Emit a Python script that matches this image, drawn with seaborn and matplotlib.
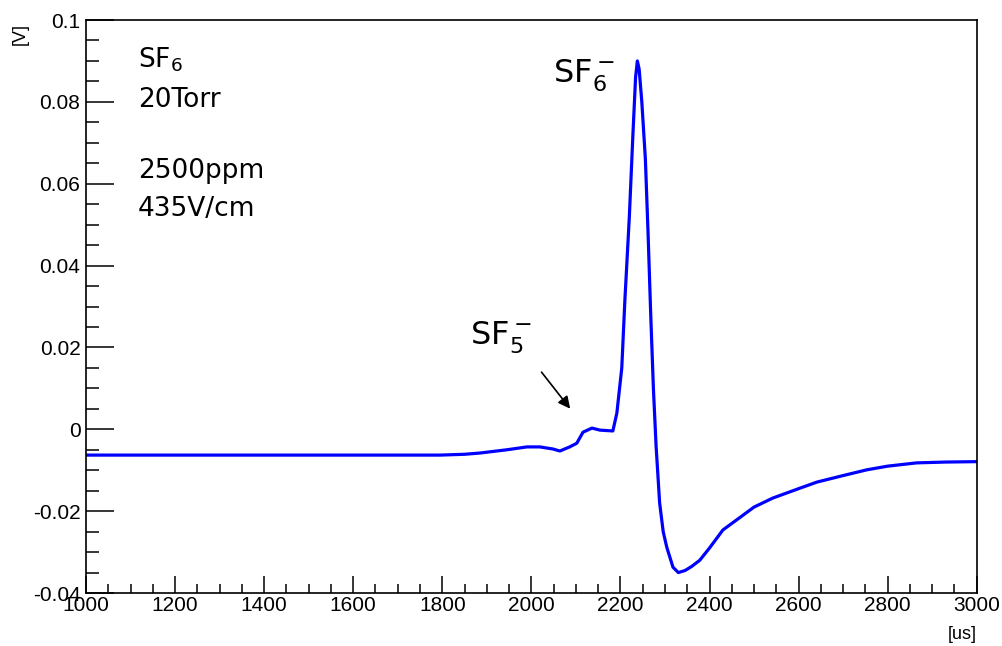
import seaborn as sns
import matplotlib.pyplot as plt
import pandas as pd
from matplotlib.ticker import MultipleLocator, FuncFormatter

sns.set_style("white")
plt.rcParams["font.family"] = ["Liberation Sans", "DejaVu Sans"]
plt.rcParams["text.color"] = "black"
plt.rcParams["xtick.color"] = "black"
plt.rcParams["ytick.color"] = "black"

# waveform
time_us = [1000, 1200, 1400, 1600, 1795, 1850, 1884, 1945, 1990, 2019, 2048, 2064,
           2086, 2102, 2116, 2136, 2154, 2183, 2192, 2203, 2210, 2220, 2228, 2234,
           2238, 2242, 2248, 2256, 2262, 2268, 2274, 2280, 2288, 2296, 2304, 2318,
           2330, 2345, 2360, 2378, 2400, 2430, 2450, 2475, 2500, 2542, 2600, 2641,
           2700, 2753, 2800, 2865, 2930, 3000]
signal_v = [-0.0063, -0.0063, -0.0063, -0.0063, -0.0063, -0.0061, -0.0058, -0.0050, -0.0043, -0.0043, -0.0048, -0.0053,
            -0.0043, -0.0034, -0.0007, 0.0003, -0.0002, -0.0004, 0.0040, 0.0150, 0.0316, 0.0520, 0.0720, 0.0860,
            0.0900, 0.0880, 0.0800, 0.0660, 0.0480, 0.0280, 0.0100, -0.0040, -0.0180, -0.0250, -0.0288, -0.0337,
            -0.0350, -0.0345, -0.0335, -0.0320, -0.0290, -0.0246, -0.0230, -0.0210, -0.0190, -0.0168, -0.0145, -0.0129,
            -0.0113, -0.0099, -0.0090, -0.0082, -0.0080, -0.0079]

df = pd.DataFrame({"t": time_us, "v": signal_v})

fig = plt.figure(figsize=(10.02, 6.46), dpi=100)
ax = fig.add_axes([0.0858, 0.082, 0.889, 0.887])
sns.lineplot(data=df, x="t", y="v", color="#0000ff", linewidth=2.3, ax=ax)

ax.set_xlim(1000, 3000)
ax.set_ylim(-0.04, 0.1)
ax.xaxis.set_major_locator(MultipleLocator(200))
ax.xaxis.set_minor_locator(MultipleLocator(50))
ax.yaxis.set_major_locator(MultipleLocator(0.02))
ax.yaxis.set_minor_locator(MultipleLocator(0.005))
ax.yaxis.set_major_formatter(FuncFormatter(lambda v, p: "0" if abs(v) < 1e-9 else f"{v:g}"))

ax.tick_params(axis="x", which="major", direction="in", length=12, width=1.1, pad=2, labelsize=15, bottom=True)
ax.tick_params(axis="x", which="minor", direction="in", length=6.5, width=1.1, bottom=True)
ax.tick_params(axis="y", which="major", direction="in", length=20, width=1.1, pad=4, labelsize=15, left=True)
ax.tick_params(axis="y", which="minor", direction="in", length=9.5, width=1.1, left=True)
for s in ax.spines.values():
    s.set_color("black")
    s.set_linewidth(1.2)

ax.set_xlabel("")
ax.set_ylabel("")
fig.text(0.975, 0.005, "[us]", ha="right", va="bottom", fontsize=13)
fig.text(0.012, 0.965, "[V]", ha="left", va="top", fontsize=13, rotation=90)

ax.text(0.058, 0.955, "SF$_6$\n20Torr", transform=ax.transAxes, fontsize=19,
        family="DejaVu Sans", va="top", linespacing=1.65)
ax.text(0.058, 0.76, "2500ppm\n435V/cm", transform=ax.transAxes, fontsize=19,
        family="DejaVu Sans", va="top", linespacing=1.6)
ax.text(2048, 0.0865, "SF$_6^-$", fontsize=23, family="DejaVu Sans", ha="left", va="center")
ax.text(1862, 0.0225, "SF$_5^-$", fontsize=23, family="DejaVu Sans", ha="left", va="center")
ax.annotate("", xy=(2091, 0.0045), xytext=(2019, 0.0145),
            arrowprops=dict(arrowstyle="-|>", color="black", lw=1.2, mutation_scale=18))

fig.savefig("out.png", dpi=100)
